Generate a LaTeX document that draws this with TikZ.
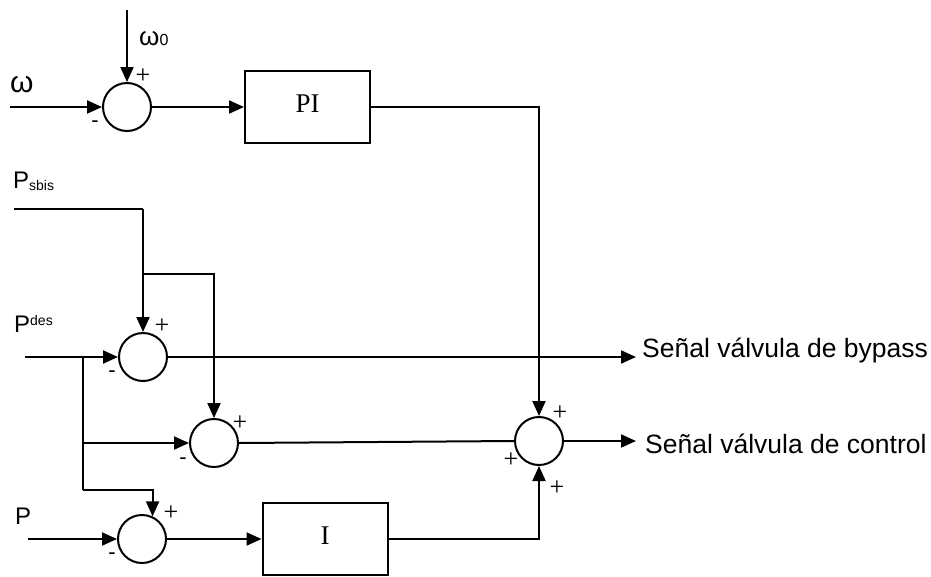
\documentclass[tikz,border=0pt]{standalone}
\usepackage{fontspec}
\setmainfont{Liberation Sans}
\newfontfamily\serifrm{Liberation Serif}
\usetikzlibrary{arrows.meta}
\begin{document}
\begin{tikzpicture}[x=1pt,y=-1pt,
  wire/.style={line width=2pt},
  sig/.style={wire,-{Triangle[length=15pt,width=13pt]}},
  sumnode/.style={circle,draw,line width=2pt,minimum size=48pt,inner sep=0pt},
  blockbox/.style={rectangle,draw,line width=2pt,minimum width=125pt,minimum height=72pt,inner sep=0pt,font=\serifrm\fontsize{27}{27}\selectfont},
  plus/.style={font=\serifrm\fontsize{26}{26}\selectfont,inner sep=0pt},
  minus/.style={font=\fontsize{22}{22}\selectfont,inner sep=0pt},
  lbl/.style={inner sep=0pt,anchor=base west,font=\fontsize{24}{24}\selectfont},
  outlbl/.style={inner sep=0pt,anchor=base west,font=\fontsize{26.5}{26.5}\selectfont}]
\useasboundingbox (0,0) rectangle (931,576);

% summing junctions
\node[sumnode] (s1) at (127,107) {};
\node[sumnode] (s2) at (143,357) {};
\node[sumnode] (s3) at (214,443) {};
\node[sumnode] (s4) at (539,441) {};
\node[sumnode] (s5) at (142,539) {};

% blocks
\node[blockbox] (pi) at (307.5,107) {\raisebox{7pt}{PI}};
\node[blockbox] (ib) at (325,539) {\raisebox{7pt}{I}};

% input labels
\node[lbl,font=\fontsize{30}{30}\selectfont] (lw) at (10,92) {ω};
\node[lbl,font=\fontsize{26}{26}\selectfont] (lw0) at (139,45) {ω{\fontsize{16}{16}\selectfont 0}};
\node[lbl] (lps) at (13,188) {P\raisebox{-2pt}{\fontsize{14}{14}\selectfont sbis}};
\node[lbl] (lpd) at (14,332) {P\raisebox{7pt}{\fontsize{14}{14}\selectfont des}};
\node[lbl] (lp) at (15,524) {P};

% coordinates
\coordinate (w0in) at (127,10);
\coordinate (win) at (10,107);
\coordinate (psin) at (14,209);
\coordinate (j1) at (143,209);
\coordinate (j2) at (143,274);
\coordinate (pdin) at (25,357);
\coordinate (j3) at (83,357);
\coordinate (j4) at (83,443);
\coordinate (j5) at (83,490);
\coordinate (pin) at (28,539);
\coordinate (outb) at (636,357);
\coordinate (outc) at (636,441);

% connectors
\draw[sig] (w0in) -- (s1.north);
\draw[sig] (win) -- (s1.west);
\draw[sig] (s1.east) -- (pi.west);
\draw[sig] (pi.east) -| (s4.north);

\draw[wire] (psin) -- (j1);
\draw[sig] (j1) -- (s2.north);
\draw[sig] (j2) -| (s3.north);

\draw[sig] (pdin) -- (s2.west);
\draw[wire] (j3) -- (j5);
\draw[sig] (j4) -- (s3.west);
\draw[sig] (j5) -| (s5.65);

\draw[sig] (s2.east) -- (outb);
\draw[wire] (s3.east) -- (s4.west);
\draw[sig] (s4.east) -- (outc);

\draw[sig] (pin) -- (s5.west);
\draw[sig] (s5.east) -- (ib.west);
\draw[sig] (ib.east) -| (s4.south);

% output labels
\node[outlbl] (ob) at (642,357) {Señal válvula de bypass};
\node[outlbl] (oc) at (645,453) {Señal válvula de control};

% signs
\node[plus] (p1) at (143,76) {+};
\node[minus] (m1) at (95,124) {-};
\node[plus] (p2) at (162,326) {+};
\node[minus] (m2) at (112,374) {-};
\node[plus] (p3) at (240,423) {+};
\node[minus] (m3) at (183,461) {-};
\node[plus] (p4a) at (560,413) {+};
\node[plus] (p4b) at (511,460) {+};
\node[plus] (p4c) at (557,488) {+};
\node[plus] (p5) at (171,513) {+};
\node[minus] (m5) at (112,556) {-};
\end{tikzpicture}
\end{document}
